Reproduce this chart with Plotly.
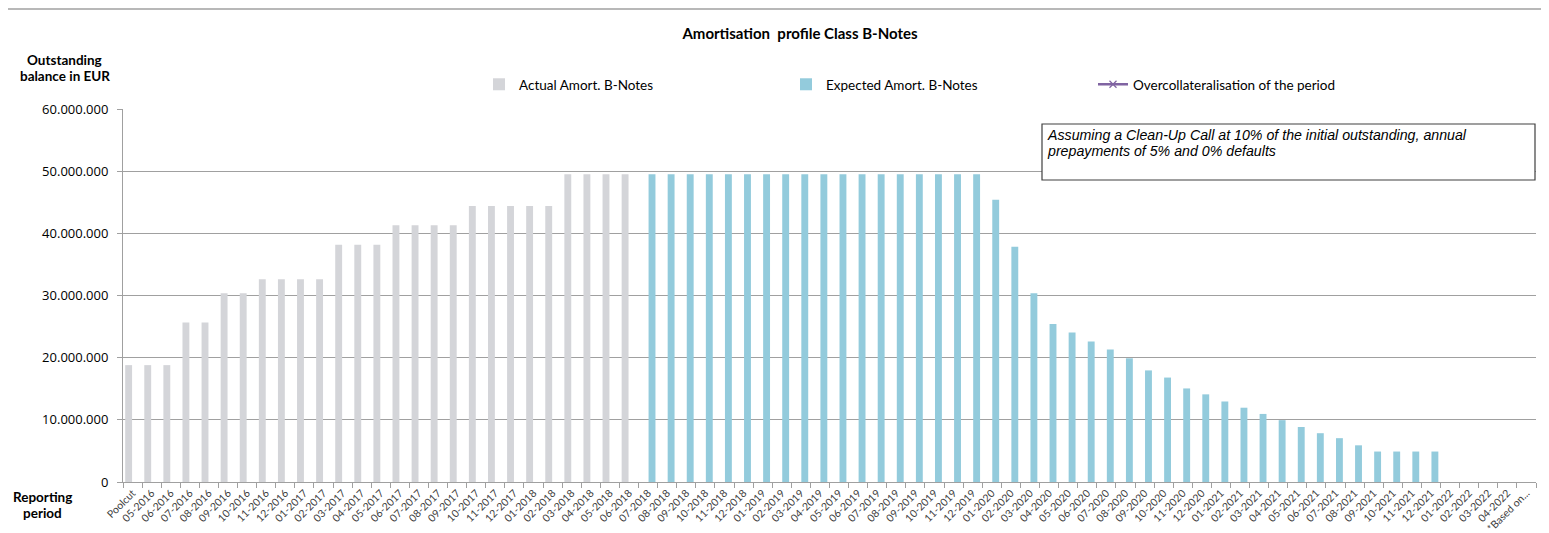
import plotly.graph_objects as go

# ---------------- data ----------------
categories = (["Poolcut"]
              + [f"{m:02d}-2016" for m in range(5, 13)]
              + [f"{m:02d}-{y}" for y in range(2017, 2022) for m in range(1, 13)]
              + [f"{m:02d}-2022" for m in range(1, 5)]
              + ["*Based on..."])

actual_values = ([18.8e6] * 3 + [25.65e6] * 2 + [30.35e6] * 2 + [32.6e6] * 4
                 + [38.15e6] * 3 + [41.3e6] * 4 + [44.4e6] * 5 + [49.5e6] * 4)

expected_values = ([49.5e6] * 18
                   + [45.4e6, 37.85e6, 30.35e6, 25.4e6, 24.05e6, 22.6e6, 21.3e6, 19.9e6,
                      17.95e6, 16.8e6, 15.05e6, 14.1e6, 12.95e6, 11.95e6, 10.95e6, 9.95e6,
                      8.85e6, 7.85e6, 7.05e6, 5.9e6, 4.9e6, 4.9e6, 4.9e6, 4.9e6])

overcollateral_values = [None] * len(categories)

y_tick_values = [0, 10e6, 20e6, 30e6, 40e6, 50e6, 60e6]

n_cat = len(categories)
actual_full = actual_values + [None] * (n_cat - len(actual_values))
expected_full = [None] * len(actual_values) + expected_values
expected_full = expected_full + [None] * (n_cat - len(expected_full))

GRAY = "#D4D5D9"
BLUE = "#93CBDC"
PURPLE = "#8064A2"
AXIS = "#A0A0A0"

fig = go.Figure()
fig.add_trace(go.Bar(x=categories, y=actual_full, name="Actual Amort. B-Notes",
                     marker=dict(color=GRAY, line=dict(width=0))))
fig.add_trace(go.Bar(x=categories, y=expected_full, name="Expected Amort. B-Notes",
                     marker=dict(color=BLUE, line=dict(width=0))))
fig.add_trace(go.Scatter(x=categories, y=overcollateral_values, mode="lines+markers",
                         name="Overcollateralisation of the period",
                         line=dict(color=PURPLE, width=2.5),
                         marker=dict(symbol="x-thin", size=7,
                                     line=dict(color=PURPLE, width=1.2))))

# page body has an 8px margin -> figure is laid out in screen coords minus 8
OFF = 8
W, H = 1549 - OFF, 533 - OFF
PL, PR, PT, PB = 123, 1536, 109, 482          # plot area in screen pixels
L, R, T, B = PL - OFF, W - (PR - OFF), PT - OFF, H - (PB - OFF)
pw, ph = PR - PL, PB - PT

def px_x(x):
    return (x - PL) / pw

def px_y(y):
    return (PB - y) / ph

fig.update_layout(
    width=W, height=H,
    margin=dict(l=L, r=R, t=T, b=B, autoexpand=False),
    paper_bgcolor="white", plot_bgcolor="white",
    barmode="group", bargap=0.18, bargroupgap=0.12,
    separators=",.",
    font=dict(family="Lato", color="#000000"),
    title=dict(text="<b>Amortisation  profile Class B-Notes</b>",
               x=(800 - OFF) / W, xanchor="center", y=1 - (34 - OFF) / H, yanchor="middle",
               font=dict(family="Lato", size=15, color="#000000")),
    showlegend=True,
    legend=dict(orientation="h", x=px_x(479), xanchor="left",
                yref="container", y=1 - (69 - OFF) / H, yanchor="top",
                entrywidth=262, entrywidthmode="pixels",
                font=dict(family="Lato", size=13.5, color="#000000"),
                bgcolor="rgba(0,0,0,0)", traceorder="normal"),
    xaxis=dict(type="category", range=[-0.5, n_cat - 0.5], automargin=False,
               tickangle=-45, tickfont=dict(family="Lato", size=10.5, color="#404040"),
               showline=True, linecolor=AXIS, linewidth=1,
               ticks="outside", tickson="boundaries", ticklen=5, tickcolor=AXIS,
               showgrid=False, fixedrange=True),
    yaxis=dict(range=[0, 60e6], tickvals=y_tick_values, tickformat=",d",
               automargin=False,
               tickfont=dict(family="Open Sans", size=13, color="#000000"),
               ticklabelstandoff=6,
               showline=True, linecolor=AXIS, linewidth=1,
               ticks="outside", ticklen=5, tickcolor=AXIS,
               showgrid=True, gridcolor=AXIS, gridwidth=1, zeroline=False,
               fixedrange=True),
)

# top border line of chart area
fig.add_shape(type="line", xref="paper", yref="paper",
              x0=px_x(8), x1=px_x(1549), y0=px_y(9), y1=px_y(9),
              line=dict(color=AXIS, width=1.5))

# note box
fig.add_shape(type="rect", xref="paper", yref="paper",
              x0=px_x(1042), x1=px_x(1535), y0=px_y(180), y1=px_y(124),
              line=dict(color="#404040", width=1.2), fillcolor="white", layer="above")
note_lines = [("Assuming a Clean-Up Call at 10% of the initial outstanding, annual", 134.5),
              ("prepayments of 5% and 0% defaults", 150.5)]
for txt, yy in note_lines:
    fig.add_annotation(xref="paper", yref="paper", x=px_x(1045), y=px_y(yy),
                       xanchor="left", yanchor="middle", align="left", showarrow=False,
                       text=txt,
                       font=dict(family="Liberation Sans", size=14.2, color="#000000",
                                 style="italic"))

# axis titles
axis_title_lines = [("Outstanding", 64.5, 59.5), ("balance in EUR", 64.5, 75.5),
                    ("Reporting", 42, 497), ("period", 42, 513)]
for txt, xx, yy in axis_title_lines:
    fig.add_annotation(xref="paper", yref="paper", x=px_x(xx), y=px_y(yy),
                       xanchor="center", yanchor="middle", showarrow=False,
                       text=f"<b>{txt}</b>",
                       font=dict(family="Lato", size=13.5, color="#000000"))

fig.write_html("out.html")
